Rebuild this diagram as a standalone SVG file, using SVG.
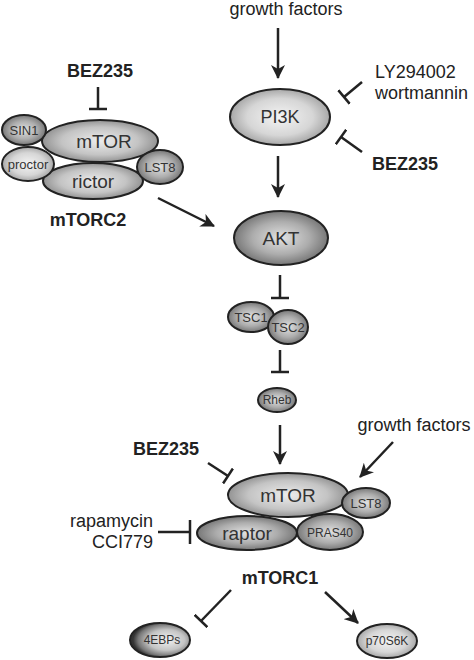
<svg xmlns="http://www.w3.org/2000/svg" width="474" height="660" viewBox="0 0 474 660">
<defs>
<radialGradient id="gL" cx="50%" cy="50%" r="55%"><stop offset="0%" stop-color="#f4f4f4"/><stop offset="60%" stop-color="#d6d6d6"/><stop offset="100%" stop-color="#9a9a9a"/></radialGradient>
<radialGradient id="gM" cx="50%" cy="50%" r="55%"><stop offset="0%" stop-color="#ececec"/><stop offset="60%" stop-color="#c4c4c4"/><stop offset="100%" stop-color="#858585"/></radialGradient>
<radialGradient id="gD" cx="50%" cy="50%" r="55%"><stop offset="0%" stop-color="#e2e2e2"/><stop offset="55%" stop-color="#adadad"/><stop offset="100%" stop-color="#6a6a6a"/></radialGradient>
<radialGradient id="gE" cx="60%" cy="50%" r="55%" fx="62%"><stop offset="0%" stop-color="#f2f2f2"/><stop offset="55%" stop-color="#c4c4c4"/><stop offset="85%" stop-color="#777"/><stop offset="100%" stop-color="#333"/></radialGradient>
<marker id="arr" markerUnits="userSpaceOnUse" viewBox="0 0 14 14" refX="13" refY="7" markerWidth="14" markerHeight="14" orient="auto"><path d="M0,0 L14,7 L0,14 L4,7 z" fill="#222"/></marker>
<marker id="tee" markerUnits="userSpaceOnUse" viewBox="0 0 4 18" refX="2" refY="9" markerWidth="4" markerHeight="18" orient="auto"><path d="M2,0 L2,18" stroke="#222" stroke-width="2.5"/></marker>
<marker id="teeL" markerUnits="userSpaceOnUse" viewBox="0 0 4 24" refX="2" refY="12" markerWidth="4" markerHeight="24" orient="auto"><path d="M2,0 L2,24" stroke="#222" stroke-width="2.5"/></marker>
</defs>
<style>
.n{stroke:#222;stroke-width:2}
.t{font-family:"Liberation Sans",Arial,sans-serif;fill:#333;text-anchor:middle}
.lab{font-family:"Liberation Sans",Arial,sans-serif;fill:#222;font-size:18px}
.b{font-weight:bold}
.e{fill:none;stroke:#222;stroke-width:2.5}
</style>
<rect width="474" height="660" fill="#fff"/>

<g id="labels">
<text class="lab" x="286" y="15" text-anchor="middle">growth factors</text>
<text class="lab" x="375" y="78">LY294002</text>
<text class="lab" x="375" y="99">wortmannin</text>
<text class="lab b" x="405" y="170" text-anchor="middle" font-size="20">BEZ235</text>
<text class="lab b" x="100" y="77" text-anchor="middle" font-size="20">BEZ235</text>
<text class="lab b" x="88" y="226" text-anchor="middle">mTORC2</text>
<text class="lab b" x="166" y="455" text-anchor="middle" font-size="20">BEZ235</text>
<text class="lab" x="414" y="431" text-anchor="middle">growth factors</text>
<text class="lab" x="153" y="527" text-anchor="end">rapamycin</text>
<text class="lab" x="153" y="548" text-anchor="end">CCI779</text>
<text class="lab b" x="280" y="584" text-anchor="middle">mTORC1</text>
</g>

<g id="connectors">
<line class="e" x1="278" y1="28" x2="278" y2="78" marker-end="url(#arr)"/>
<line class="e" x1="362" y1="82" x2="344" y2="97" marker-end="url(#tee)"/>
<line class="e" x1="362" y1="152" x2="341" y2="137" marker-end="url(#tee)"/>
<line class="e" x1="278" y1="156" x2="278" y2="197" marker-end="url(#arr)"/>
<line class="e" x1="98" y1="87" x2="98" y2="109" marker-end="url(#tee)"/>
<line class="e" x1="158" y1="198" x2="214" y2="226" marker-end="url(#arr)"/>
<line class="e" x1="280" y1="275" x2="280" y2="298" marker-end="url(#tee)"/>
<line class="e" x1="280" y1="350" x2="280" y2="372" marker-end="url(#tee)"/>
<line class="e" x1="280" y1="425" x2="280" y2="464" marker-end="url(#arr)"/>
<line class="e" x1="208" y1="463" x2="228" y2="476" marker-end="url(#tee)"/>
<line class="e" x1="393" y1="442" x2="360" y2="477" marker-end="url(#arr)"/>
<line class="e" x1="158" y1="532" x2="190" y2="532" marker-end="url(#teeL)"/>
<line class="e" x1="231" y1="590" x2="201" y2="621" marker-end="url(#tee)"/>
<line class="e" x1="325" y1="592" x2="358" y2="623" marker-end="url(#arr)"/>
</g>

<g id="PI3K"><ellipse class="n" cx="280" cy="117" rx="50" ry="28" fill="url(#gL)"/><text class="t" x="280" y="123" font-size="18">PI3K</text></g>

<g id="mTORC2">
<g id="mTOR2"><ellipse class="n" cx="100" cy="141" rx="58" ry="21" fill="url(#gM)"/><text class="t" x="104" y="148" font-size="19">mTOR</text></g>
<g id="SIN1"><ellipse class="n" cx="24" cy="130" rx="22" ry="15" fill="url(#gD)"/><text class="t" x="24" y="135" font-size="13">SIN1</text></g>
<g id="rictor"><ellipse class="n" cx="93" cy="181" rx="50" ry="18" fill="url(#gM)"/><text class="t" x="93" y="188" font-size="19">rictor</text></g>
<g id="proctor"><ellipse class="n" cx="28" cy="164" rx="26" ry="17" fill="url(#gL)"/><text class="t" x="28" y="169" font-size="13">proctor</text></g>
<g id="LST8_2"><ellipse class="n" cx="160" cy="167" rx="23" ry="17" fill="url(#gD)"/><text class="t" x="160" y="172" font-size="13">LST8</text></g>
</g>

<g id="AKT"><ellipse class="n" cx="281" cy="238" rx="47" ry="27" fill="url(#gD)"/><text class="t" x="281" y="245" font-size="19">AKT</text></g>

<g id="TSC"><ellipse class="n" cx="251" cy="317" rx="23" ry="15" fill="url(#gD)"/><text class="t" x="251" y="322" font-size="13">TSC1</text>
<ellipse class="n" cx="288" cy="327" rx="20" ry="17" fill="url(#gD)"/><text class="t" x="288" y="332" font-size="13">TSC2</text></g>

<g id="Rheb"><ellipse class="n" cx="277" cy="400" rx="19" ry="12" fill="url(#gD)"/><text class="t" x="277" y="404" font-size="12">Rheb</text></g>

<g id="mTORC1">
<g id="mTOR1"><ellipse class="n" cx="288" cy="495" rx="60" ry="22" fill="url(#gM)"/><text class="t" x="288" y="502" font-size="19">mTOR</text></g>
<g id="LST8_1"><ellipse class="n" cx="366" cy="503" rx="24" ry="15" fill="url(#gD)"/><text class="t" x="366" y="508" font-size="13">LST8</text></g>
<g id="raptor"><ellipse class="n" cx="247" cy="533" rx="50" ry="17" fill="url(#gD)"/><text class="t" x="247" y="540" font-size="19">raptor</text></g>
<g id="PRAS40"><ellipse class="n" cx="330" cy="532" rx="33" ry="18" fill="url(#gD)"/><text class="t" x="330" y="537" font-size="12">PRAS40</text></g>
</g>

<g id="4EBPs"><ellipse class="n" cx="160" cy="640" rx="30" ry="17" fill="url(#gE)"/><text class="t" x="162" y="644" font-size="12">4EBPs</text></g>
<g id="p70S6K"><ellipse class="n" cx="387" cy="641" rx="30" ry="17" fill="url(#gL)"/><text class="t" x="387" y="645" font-size="12">p70S6K</text></g>
</svg>
